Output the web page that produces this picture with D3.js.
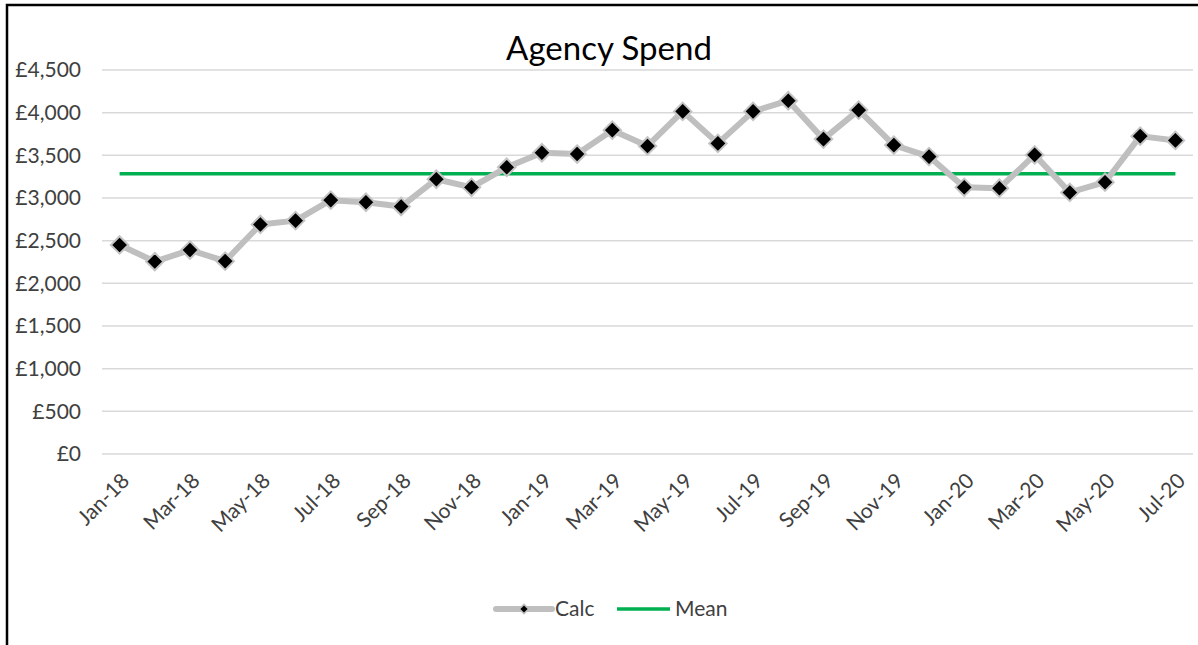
<!DOCTYPE html>
<html>
<head>
<meta charset="utf-8">
<script src="https://cdn.jsdelivr.net/npm/d3@7"></script>
<style>
  html, body { margin: 0; padding: 0; background: #fff; }
  svg { display: block; }
  text { font-family: Lato, "Open Sans", sans-serif; fill: #404040; }
</style>
</head>
<body>
<svg id="chart" width="1198" height="645"></svg>
<script>
// Monthly agency spend
const months = ["Jan-18","Feb-18","Mar-18","Apr-18","May-18","Jun-18","Jul-18","Aug-18","Sep-18","Oct-18","Nov-18","Dec-18",
                "Jan-19","Feb-19","Mar-19","Apr-19","May-19","Jun-19","Jul-19","Aug-19","Sep-19","Oct-19","Nov-19","Dec-19",
                "Jan-20","Feb-20","Mar-20","Apr-20","May-20","Jun-20","Jul-20"];
const calc = [2450, 2255, 2390, 2260, 2690, 2735, 2975, 2950, 2900, 3220, 3125, 3360,
              3530, 3515, 3795, 3610, 4015, 3640, 4015, 4140, 3690, 4030, 3620, 3485,
              3125, 3115, 3505, 3065, 3185, 3725, 3675];
const meanValue = 3285;
const yTicks = [0, 500, 1000, 1500, 2000, 2500, 3000, 3500, 4000, 4500];
const title = "Agency Spend";
const legendItems = ["Calc", "Mean"];

const svg = d3.select("#chart");

// Outer frame (only top and left edges fall inside the view)
svg.append("rect")
  .attr("x", 7).attr("y", 5)
  .attr("width", 1300).attr("height", 700)
  .attr("fill", "#fff").attr("stroke", "#000").attr("stroke-width", 2.5);

const x = d3.scaleBand().domain(months).range([102, 1193]);
const cx = d => x(d) + x.bandwidth() / 2;
const y = d3.scaleLinear().domain([0, 4500]).range([454, 70]);

// Title
svg.append("text")
  .attr("x", 609).attr("y", 60)
  .attr("text-anchor", "middle")
  .style("font-size", "33px").style("fill", "#000")
  .text(title);

// Gridlines
svg.append("g")
  .selectAll("line").data(yTicks).join("line")
  .attr("x1", 102).attr("x2", 1193)
  .attr("y1", d => y(d)).attr("y2", d => y(d))
  .attr("stroke", "#d9d9d9").attr("stroke-width", 1.5);

// Y axis
const yAxis = svg.append("g")
  .attr("transform", "translate(88,0)")
  .call(d3.axisLeft(y).tickValues(yTicks).tickSize(0).tickPadding(0)
    .tickFormat(d => "£" + d3.format(",")(d)));
yAxis.select(".domain").remove();
yAxis.selectAll("text")
  .attr("x", -7)
  .style("font-size", "21px").style("font-family", "Lato, sans-serif").style("fill", "#404040");

// X axis, labelled every second month
const xAxis = svg.append("g")
  .attr("transform", "translate(0,454)")
  .call(d3.axisBottom(x).tickSize(0)
    .tickValues(months.filter((m, i) => i % 2 === 0)));
xAxis.select(".domain").remove();
xAxis.selectAll("text")
  .style("font-size", "21px").style("font-family", "Lato, sans-serif").style("fill", "#404040")
  .attr("text-anchor", "end")
  .attr("dy", 0)
  .attr("transform", "translate(9,26) rotate(-45)");

// Mean line
const meanLine = d3.line().x(d => cx(d)).y(() => y(meanValue));
svg.append("path")
  .datum(months)
  .attr("d", meanLine)
  .attr("fill", "none").attr("stroke", "#00b050").attr("stroke-width", 3.5);

// Calc line
const calcLine = d3.line().x((d, i) => cx(months[i])).y(d => y(d));
svg.append("path")
  .datum(calc)
  .attr("d", calcLine)
  .attr("fill", "none").attr("stroke", "#bfbfbf").attr("stroke-width", 6)
  .attr("stroke-linejoin", "round");

// Diamond markers
const diamond = d3.symbol().type(d3.symbolDiamond2).size(195);
svg.append("g")
  .selectAll("path").data(calc).join("path")
  .attr("transform", (d, i) => `translate(${cx(months[i])},${y(d)})`)
  .attr("d", diamond)
  .attr("fill", "#000").attr("stroke", "#c4c4c4").attr("stroke-width", 2);

// Legend
const legend = svg.append("g").attr("transform", "translate(0,609)");
legend.append("line")
  .attr("x1", 496).attr("x2", 552).attr("y1", 0).attr("y2", 0)
  .attr("stroke", "#bfbfbf").attr("stroke-width", 6).attr("stroke-linecap", "round");
legend.append("path")
  .attr("transform", "translate(524,0)")
  .attr("d", d3.symbol().type(d3.symbolDiamond2).size(55)())
  .attr("fill", "#000").attr("stroke", "#bfbfbf").attr("stroke-width", 1.5);
legend.append("text")
  .attr("x", 555).attr("y", 0).attr("dy", "0.35em")
  .style("font-size", "21px").text(legendItems[0]);
legend.append("line")
  .attr("x1", 617).attr("x2", 670).attr("y1", 0).attr("y2", 0)
  .attr("stroke", "#00b050").attr("stroke-width", 3.5);
legend.append("text")
  .attr("x", 675).attr("y", 0).attr("dy", "0.35em")
  .style("font-size", "21px").text(legendItems[1]);
</script>
</body>
</html>
